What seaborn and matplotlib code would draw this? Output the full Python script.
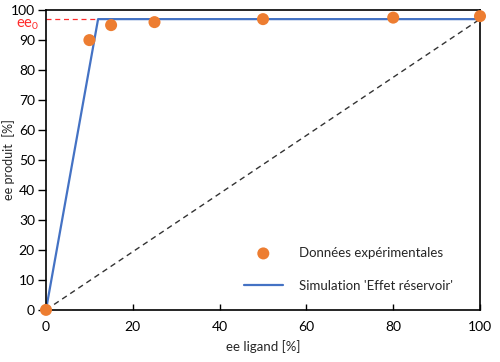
import numpy as np
import pandas as pd
import matplotlib
matplotlib.use("Agg")
import matplotlib.pyplot as plt
import seaborn as sns

sns.set_theme(style="white")
plt.rcParams["font.family"] = ["Lato", "DejaVu Sans"]
plt.rcParams["mathtext.fontset"] = "custom"
plt.rcParams["mathtext.rm"] = "Lato"

# experimental data
ee_ligand = [0, 10, 15, 25, 50, 80, 100]
ee_produit = [0, 90, 95, 96, 97, 97.5, 98]
# reservoir-effect simulation
sim_x = [0, 12, 100]
sim_y = [0, 97, 97]
ee0 = 97
diag_x = [0, 100]
diag_y = [0, 97]

df = pd.DataFrame({"x": ee_ligand, "y": ee_produit})

fig = plt.figure(figsize=(5, 3.62), dpi=100)
ax = fig.add_axes([0.092, 0.144, 0.868, 0.828])

ax.plot(diag_x, diag_y, color="#333333", lw=1, ls=(0, (4, 3)), zorder=1)
ax.plot([0, sim_x[1]], [ee0, ee0], color="#ff2a2a", lw=0.9, ls=(0, (4, 3)), zorder=1)
sns.lineplot(x=sim_x, y=sim_y, ax=ax, color="#4472c4", lw=1.6,
             label="Simulation 'Effet réservoir'", zorder=2)
sns.scatterplot(data=df, x="x", y="y", ax=ax, color="#ed7d31", s=75,
                edgecolor="none", label="Données expérimentales", zorder=3,
                clip_on=False)

ax.set_xlim(0, 100)
ax.set_ylim(0, 100)
ax.set_xticks(range(0, 101, 20))
ax.set_yticks(range(0, 101, 10))
ax.tick_params(axis="x", direction="in", length=4, width=1, labelsize=10, colors="black", pad=8)
ax.tick_params(axis="y", direction="out", length=6, width=1, labelsize=10, colors="black", left=True, pad=2)
ax.tick_params(axis="x", bottom=True)
for s in ax.spines.values():
    s.set_color("black")
    s.set_linewidth(1.2)

ax.set_xlabel("ee ligand [%]", fontsize=9.5, labelpad=5)
ax.set_ylabel("ee produit  [%]", fontsize=9)
ax.yaxis.set_label_coords(-0.072, 0.5)

ax.text(-0.07, ee0 - 1.8, r"ee$_0$", transform=ax.get_yaxis_transform(),
        color="#ff2a2a", fontsize=10.5, va="center", ha="left")

h, l = ax.get_legend_handles_labels()
ax.legend(h[::-1], l[::-1], loc="lower right", bbox_to_anchor=(0.965, 0.02),
          frameon=False, fontsize=9.5, handlelength=3, labelspacing=1.6,
          handletextpad=1.2)

fig.savefig("out.png", dpi=100, facecolor="white")
